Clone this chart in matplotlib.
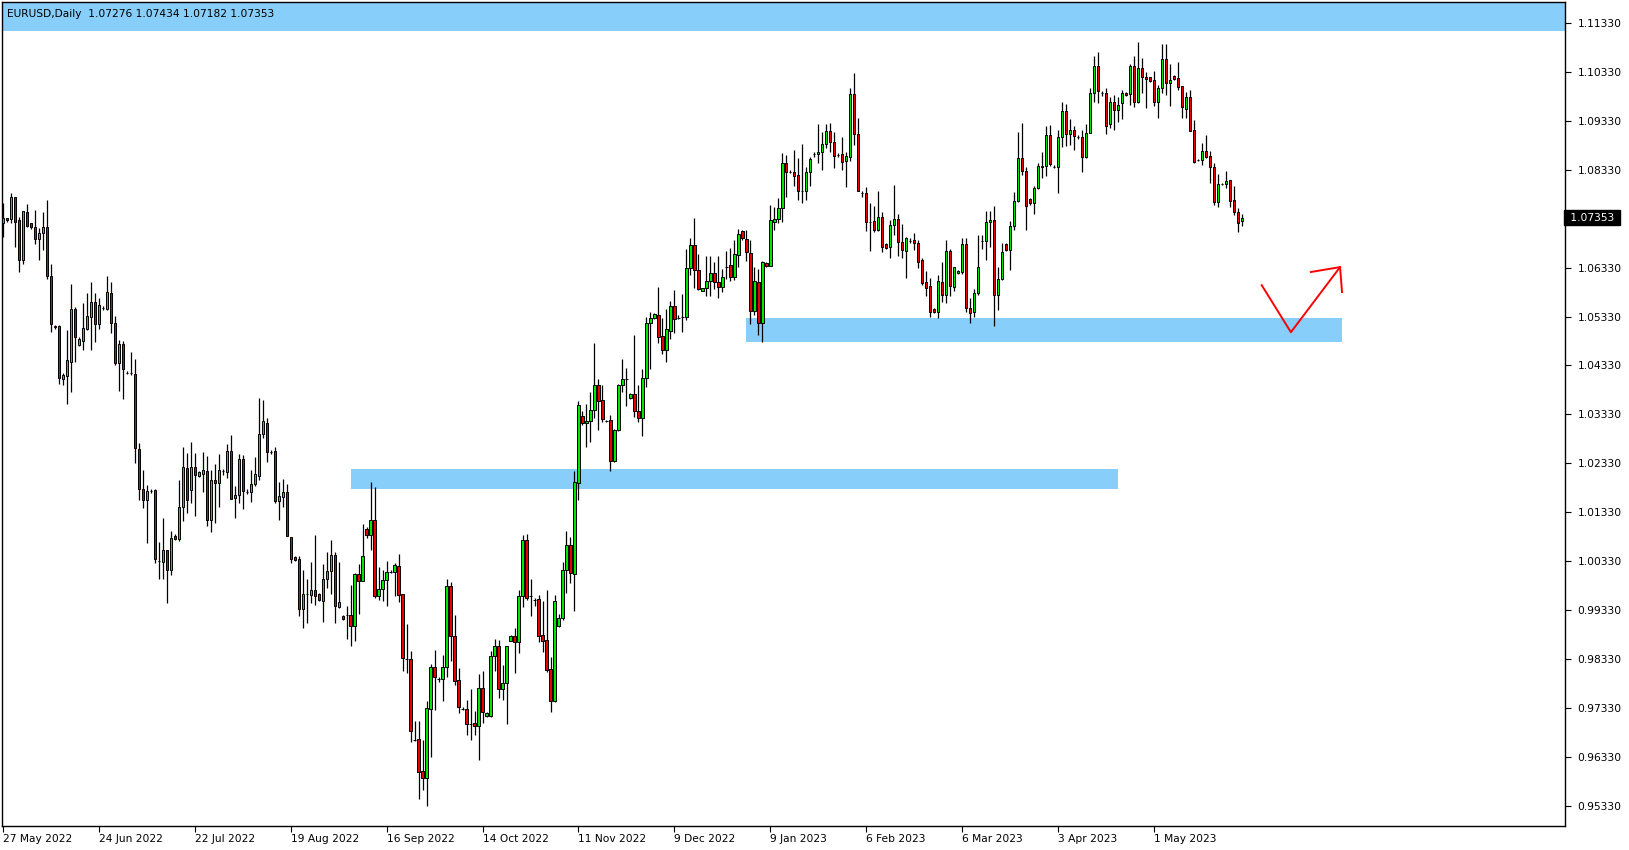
import numpy as np
import matplotlib.pyplot as plt

# EURUSD daily candles (one bar per trading day incl. short Sunday bars)
opens = [
    1.0724, 1.0734, 1.0732, 1.0777, 1.0730, 1.0649, 1.0746, 1.0724, 1.0716, 1.0691,
    1.0703, 1.0716, 1.0616, 1.0513, 1.0513, 1.0405, 1.0412, 1.0441, 1.0548, 1.0474,
    1.0484, 1.0508, 1.0533, 1.0562, 1.0518, 1.0551, 1.0548, 1.0582, 1.0519, 1.0439,
    1.0476, 1.0418, 1.0418, 1.0415, 1.0262, 1.0180, 1.0158, 1.0177, 1.0178, 1.0034,
    1.0032, 1.0056, 1.0016, 1.0085, 1.0078, 1.0143, 1.0223, 1.0178, 1.0226, 1.0207,
    1.0211, 1.0217, 1.0117, 1.0199, 1.0192, 1.0218, 1.0215, 1.0258, 1.0162, 1.0168,
    1.0242, 1.0175, 1.0175, 1.0190, 1.0208, 1.0294, 1.0316, 1.0257, 1.0258, 1.0157,
    1.0164, 1.0175, 1.0083, 1.0041, 1.0038, 0.9936, 0.9966, 0.9965, 0.9974, 0.9966,
    0.9952, 0.9996, 1.0014, 1.0046, 0.9940, 0.9921, 0.9924, 0.9924, 0.9901, 1.0007,
    0.9993, 1.0099, 1.0086, 1.0117, 0.9962, 0.9977, 0.9994, 1.0012, 1.0012, 1.0023,
    0.9966, 0.9833, 0.9833, 0.9668, 0.9669, 0.9604, 0.9591, 0.9732, 0.9816, 0.9792,
    0.9792, 0.9816, 0.9982, 0.9880, 0.9790, 0.9732, 0.9732, 0.9700, 0.9702, 0.9697,
    0.9773, 0.9716, 0.9717, 0.9839, 0.9860, 0.9771, 0.9784, 0.9871, 0.9880, 0.9867,
    0.9962, 1.0076, 0.9962, 0.9954, 0.9955, 0.9882, 0.9872, 0.9812, 0.9748, 0.9901,
    0.9918, 1.0015, 1.0067, 1.0007, 1.0193, 1.0330, 1.0315, 1.0320, 1.0343, 1.0393,
    1.0362, 1.0320, 1.0321, 1.0238, 1.0302, 1.0394, 1.0405, 1.0366, 1.0375, 1.0339,
    1.0325, 1.0407, 1.0519, 1.0530, 1.0536, 1.0494, 1.0464, 1.0504, 1.0554, 1.0531,
    1.0533, 1.0533, 1.0632, 1.0679, 1.0628, 1.0586, 1.0591, 1.0606, 1.0622, 1.0603,
    1.0593, 1.0635, 1.0639, 1.0613, 1.0658, 1.0707, 1.0691, 1.0662, 1.0545, 1.0603,
    1.0519, 1.0642, 1.0637, 1.0727, 1.0732, 1.0754, 1.0846, 1.0829, 1.0828, 1.0822,
    1.0790, 1.0790, 1.0828, 1.0865, 1.0865, 1.0869, 1.0885, 1.0912, 1.0889, 1.0863,
    1.0865, 1.0850, 1.0860, 1.0987, 1.0907, 1.0785, 1.0785, 1.0727, 1.0728, 1.0709,
    1.0737, 1.0681, 1.0676, 1.0721, 1.0732, 1.0686, 1.0667, 1.0688, 1.0689, 1.0683,
    1.0649, 1.0603, 1.0596, 1.0548, 1.0543, 1.0603, 1.0576, 1.0667, 1.0594, 1.0622,
    1.0625, 1.0681, 1.0550, 1.0542, 1.0581, 1.0688, 1.0688, 1.0726, 1.0730, 1.0576,
    1.0609, 1.0681, 1.0668, 1.0719, 1.0769, 1.0857, 1.0831, 1.0773, 1.0765, 1.0795,
    1.0838, 1.0841, 1.0903, 1.0839, 1.0839, 1.0899, 1.0953, 1.0905, 1.0915, 1.0899,
    1.0899, 1.0858, 1.0909, 1.0989, 1.1045, 1.0989, 1.0989, 1.0926, 1.0971, 1.0954,
    1.0969, 1.0989, 1.0987, 1.1045, 1.0972, 1.1040, 1.1022, 1.1022, 1.1016, 1.0972,
    1.0999, 1.1059, 1.1011, 1.1024, 1.1021, 1.1004, 1.0958, 1.0982, 1.0915, 1.0853,
    1.0852, 1.0872, 1.0861, 1.0838, 1.0768, 1.0804, 1.0804, 1.0812, 1.0771, 1.0747,
    1.07276,
]
highs = [
    1.0765, 1.0735, 1.0785, 1.0777, 1.0737, 1.0749, 1.0763, 1.0724, 1.0751, 1.0713,
    1.0746, 1.0771, 1.0641, 1.0516, 1.0516, 1.0417, 1.0506, 1.0599, 1.0553, 1.0492,
    1.0560, 1.0582, 1.0603, 1.0582, 1.0570, 1.0555, 1.0615, 1.0603, 1.0534, 1.0486,
    1.0482, 1.0422, 1.0461, 1.0446, 1.0275, 1.0219, 1.0189, 1.0181, 1.0181, 1.0073,
    1.0121, 1.0056, 1.0095, 1.0088, 1.0200, 1.0267, 1.0255, 1.0277, 1.0255, 1.0218,
    1.0257, 1.0248, 1.0219, 1.0232, 1.0252, 1.0222, 1.0273, 1.0291, 1.0187, 1.0252,
    1.0250, 1.0180, 1.0220, 1.0247, 1.0366, 1.0363, 1.0325, 1.0260, 1.0266, 1.0194,
    1.0201, 1.0190, 1.0083, 1.0043, 1.0044, 1.0015, 0.9997, 1.0032, 1.0087, 0.9968,
    1.0027, 1.0051, 1.0076, 1.0051, 1.0031, 0.9923, 0.9941, 0.9984, 1.0009, 1.0027,
    1.0110, 1.0103, 1.0195, 1.0184, 1.0022, 1.0015, 1.0033, 1.0015, 1.0029, 1.0048,
    0.9966, 0.9905, 0.9849, 0.9706, 0.9706, 0.9668, 0.9747, 0.9822, 0.9852, 0.9797,
    0.9841, 0.9997, 0.9991, 0.9923, 0.9814, 0.9736, 0.9749, 0.9772, 0.9726, 0.9803,
    0.9809, 0.9724, 0.9850, 0.9874, 0.9872, 0.9821, 0.9860, 0.9882, 0.9897, 0.9974,
    1.0087, 1.0088, 0.9996, 0.9957, 0.9964, 0.9952, 0.9974, 0.9838, 0.9964, 0.9926,
    1.0031, 1.0095, 1.0083, 1.0218, 1.0360, 1.0340, 1.0355, 1.0378, 1.0478, 1.0405,
    1.0393, 1.0321, 1.0332, 1.0304, 1.0396, 1.0446, 1.0428, 1.0376, 1.0496, 1.0393,
    1.0426, 1.0532, 1.0542, 1.0540, 1.0593, 1.0530, 1.0549, 1.0564, 1.0588, 1.0536,
    1.0579, 1.0671, 1.0693, 1.0734, 1.0661, 1.0592, 1.0657, 1.0657, 1.0644, 1.0657,
    1.0630, 1.0667, 1.0674, 1.0690, 1.0712, 1.0709, 1.0710, 1.0690, 1.0634, 1.0630,
    1.0647, 1.0644, 1.0760, 1.0756, 1.0775, 1.0867, 1.0863, 1.0833, 1.0873, 1.0856,
    1.0885, 1.0839, 1.0860, 1.0869, 1.0926, 1.0910, 1.0926, 1.0928, 1.0910, 1.0868,
    1.0900, 1.0869, 1.0999, 1.1030, 1.0938, 1.0790, 1.0797, 1.0764, 1.0758, 1.0790,
    1.0747, 1.0683, 1.0730, 1.0802, 1.0742, 1.0722, 1.0696, 1.0693, 1.0703, 1.0689,
    1.0653, 1.0626, 1.0611, 1.0550, 1.0618, 1.0644, 1.0689, 1.0671, 1.0635, 1.0628,
    1.0693, 1.0693, 1.0571, 1.0589, 1.0700, 1.0700, 1.0748, 1.0749, 1.0759, 1.0634,
    1.0684, 1.0684, 1.0729, 1.0787, 1.0910, 1.0928, 1.0838, 1.0776, 1.0799, 1.0846,
    1.0869, 1.0923, 1.0925, 1.0843, 1.0914, 1.0972, 1.0967, 1.0937, 1.0922, 1.0904,
    1.0915, 1.0926, 1.0999, 1.1065, 1.1073, 1.0994, 1.0999, 1.0981, 1.0986, 1.0982,
    1.0996, 1.0991, 1.1049, 1.1065, 1.1093, 1.1061, 1.1033, 1.1023, 1.1035, 1.1006,
    1.1089, 1.1089, 1.1050, 1.1026, 1.1054, 1.1004, 1.0992, 1.0996, 1.0934, 1.0855,
    1.0888, 1.0904, 1.0871, 1.0846, 1.0825, 1.0805, 1.0830, 1.0812, 1.0800, 1.0754,
    1.07434,
]
lows = [
    1.0695, 1.0727, 1.0724, 1.0676, 1.0625, 1.0641, 1.0715, 1.0712, 1.0681, 1.0649,
    1.0669, 1.0609, 1.0502, 1.0508, 1.0395, 1.0393, 1.0355, 1.0378, 1.0441, 1.0472,
    1.0465, 1.0506, 1.0465, 1.0481, 1.0508, 1.0547, 1.0547, 1.0500, 1.0433, 1.0380,
    1.0364, 1.0416, 1.0413, 1.0233, 1.0158, 1.0141, 1.0070, 1.0173, 1.0030, 0.9996,
    0.9996, 0.9948, 1.0005, 1.0076, 1.0075, 1.0116, 1.0131, 1.0151, 1.0125, 1.0205,
    1.0175, 1.0104, 1.0093, 1.0111, 1.0143, 1.0209, 1.0203, 1.0160, 1.0121, 1.0151,
    1.0139, 1.0171, 1.0155, 1.0186, 1.0198, 1.0284, 1.0235, 1.0252, 1.0151, 1.0117,
    1.0143, 1.0085, 1.0029, 1.0034, 0.9922, 0.9897, 0.9906, 0.9947, 0.9944, 0.9952,
    0.9909, 0.9979, 0.9966, 0.9907, 0.9938, 0.9913, 0.9875, 0.9860, 0.9871, 0.9925,
    0.9993, 1.0081, 1.0056, 0.9958, 0.9954, 0.9952, 0.9942, 1.0009, 0.9962, 0.9950,
    0.9809, 0.9805, 0.9664, 0.9666, 0.9548, 0.9565, 0.9532, 0.9632, 0.9729, 0.9787,
    0.9747, 0.9797, 0.9829, 0.9781, 0.9722, 0.9729, 0.9677, 0.9668, 0.9677, 0.9627,
    0.9702, 0.9714, 0.9715, 0.9809, 0.9754, 0.9749, 0.9700, 0.9869, 0.9804, 0.9845,
    0.9940, 0.9953, 0.9921, 0.9942, 0.9868, 0.9848, 0.9807, 0.9725, 0.9745, 0.9899,
    0.9913, 0.9969, 0.9989, 0.9931, 1.0158, 1.0311, 1.0267, 1.0277, 1.0326, 1.0301,
    1.0317, 1.0318, 1.0217, 1.0236, 1.0300, 1.0378, 1.0351, 1.0364, 1.0327, 1.0317,
    1.0288, 1.0390, 1.0425, 1.0528, 1.0479, 1.0457, 1.0441, 1.0487, 1.0499, 1.0528,
    1.0502, 1.0525, 1.0618, 1.0591, 1.0588, 1.0585, 1.0574, 1.0575, 1.0589, 1.0571,
    1.0584, 1.0609, 1.0605, 1.0608, 1.0635, 1.0690, 1.0647, 1.0517, 1.0536, 1.0496,
    1.0480, 1.0635, 1.0637, 1.0709, 1.0724, 1.0727, 1.0778, 1.0826, 1.0799, 1.0771,
    1.0765, 1.0771, 1.0799, 1.0860, 1.0846, 1.0833, 1.0877, 1.0870, 1.0836, 1.0858,
    1.0832, 1.0798, 1.0850, 1.0884, 1.0790, 1.0778, 1.0707, 1.0666, 1.0705, 1.0707,
    1.0664, 1.0672, 1.0653, 1.0700, 1.0657, 1.0652, 1.0611, 1.0684, 1.0669, 1.0632,
    1.0598, 1.0574, 1.0533, 1.0540, 1.0531, 1.0562, 1.0560, 1.0574, 1.0586, 1.0620,
    1.0620, 1.0542, 1.0520, 1.0533, 1.0577, 1.0671, 1.0648, 1.0676, 1.0513, 1.0547,
    1.0608, 1.0666, 1.0628, 1.0710, 1.0768, 1.0823, 1.0710, 1.0761, 1.0742, 1.0794,
    1.0816, 1.0821, 1.0841, 1.0837, 1.0786, 1.0880, 1.0881, 1.0883, 1.0873, 1.0895,
    1.0829, 1.0856, 1.0909, 1.0972, 1.0970, 1.0984, 1.0907, 1.0918, 1.0915, 1.0931,
    1.0936, 1.0983, 1.0965, 1.0962, 1.0969, 1.0989, 1.0960, 1.1013, 1.0963, 1.0938,
    1.0989, 1.0985, 1.0964, 1.1017, 1.0996, 1.0938, 1.0939, 1.0913, 1.0846, 1.0851,
    1.0842, 1.0856, 1.0806, 1.0761, 1.0757, 1.0802, 1.0796, 1.0757, 1.0740, 1.0705,
    1.07182,
]
closes = [
    1.0734, 1.0730, 1.0777, 1.0727, 1.0649, 1.0748, 1.0717, 1.0715, 1.0691, 1.0703,
    1.0716, 1.0615, 1.0517, 1.0512, 1.0407, 1.0414, 1.0444, 1.0548, 1.0492, 1.0487,
    1.0509, 1.0534, 1.0562, 1.0518, 1.0556, 1.0551, 1.0583, 1.0519, 1.0439, 1.0476,
    1.0425, 1.0418, 1.0417, 1.0264, 1.0180, 1.0158, 1.0177, 1.0177, 1.0037, 1.0034,
    1.0056, 1.0016, 1.0080, 1.0078, 1.0143, 1.0225, 1.0158, 1.0226, 1.0209, 1.0215,
    1.0219, 1.0117, 1.0199, 1.0192, 1.0220, 1.0218, 1.0258, 1.0160, 1.0168, 1.0242,
    1.0176, 1.0175, 1.0190, 1.0211, 1.0294, 1.0320, 1.0257, 1.0257, 1.0157, 1.0166,
    1.0175, 1.0085, 1.0037, 1.0036, 0.9936, 0.9966, 0.9966, 0.9974, 0.9961, 0.9954,
    0.9996, 1.0014, 1.0046, 0.9942, 0.9950, 0.9915, 0.9924, 0.9901, 1.0007, 0.9993,
    1.0044, 1.0086, 1.0117, 0.9962, 0.9977, 0.9994, 1.0010, 1.0012, 1.0025, 0.9965,
    0.9836, 0.9833, 0.9687, 0.9668, 0.9603, 0.9591, 0.9734, 0.9816, 0.9797, 0.9792,
    0.9816, 0.9982, 0.9881, 0.9789, 0.9736, 0.9732, 0.9700, 0.9700, 0.9697, 0.9773,
    0.9724, 0.9722, 0.9839, 0.9860, 0.9771, 0.9784, 0.9860, 0.9880, 0.9867, 0.9962,
    1.0076, 0.9957, 0.9962, 0.9954, 0.9881, 0.9870, 0.9811, 0.9748, 0.9952, 0.9918,
    1.0015, 1.0067, 1.0009, 1.0194, 1.0353, 1.0315, 1.0319, 1.0343, 1.0393, 1.0361,
    1.0323, 1.0320, 1.0238, 1.0302, 1.0394, 1.0406, 1.0405, 1.0374, 1.0339, 1.0325,
    1.0407, 1.0519, 1.0530, 1.0538, 1.0492, 1.0464, 1.0507, 1.0554, 1.0528, 1.0531,
    1.0533, 1.0632, 1.0679, 1.0628, 1.0590, 1.0591, 1.0606, 1.0622, 1.0603, 1.0594,
    1.0613, 1.0635, 1.0613, 1.0661, 1.0702, 1.0693, 1.0664, 1.0545, 1.0606, 1.0519,
    1.0645, 1.0637, 1.0730, 1.0732, 1.0754, 1.0846, 1.0829, 1.0829, 1.0821, 1.0790,
    1.0790, 1.0828, 1.0855, 1.0865, 1.0869, 1.0885, 1.0912, 1.0889, 1.0862, 1.0863,
    1.0848, 1.0861, 1.0987, 1.0905, 1.0790, 1.0785, 1.0726, 1.0727, 1.0709, 1.0737,
    1.0676, 1.0674, 1.0721, 1.0732, 1.0686, 1.0668, 1.0693, 1.0688, 1.0683, 1.0645,
    1.0602, 1.0592, 1.0543, 1.0542, 1.0606, 1.0576, 1.0667, 1.0596, 1.0634, 1.0626,
    1.0681, 1.0550, 1.0540, 1.0581, 1.0635, 1.0688, 1.0726, 1.0730, 1.0576, 1.0609,
    1.0665, 1.0668, 1.0719, 1.0769, 1.0857, 1.0831, 1.0758, 1.0765, 1.0795, 1.0841,
    1.0841, 1.0903, 1.0844, 1.0839, 1.0899, 1.0953, 1.0905, 1.0915, 1.0901, 1.0899,
    1.0858, 1.0909, 1.0989, 1.1045, 1.0994, 1.0989, 1.0923, 1.0971, 1.0954, 1.0965,
    1.0989, 1.0985, 1.1045, 1.0972, 1.1040, 1.1022, 1.1018, 1.1015, 1.0972, 1.0999,
    1.1059, 1.1011, 1.1016, 1.1019, 1.1002, 1.0962, 1.0982, 1.0913, 1.0849, 1.0853,
    1.0872, 1.0859, 1.0838, 1.0768, 1.0803, 1.0804, 1.0810, 1.0770, 1.0747, 1.0725,
    1.07353,
]

date_labels = ['27 May 2022', '24 Jun 2022', '22 Jul 2022', '19 Aug 2022', '16 Sep 2022',
               '14 Oct 2022', '11 Nov 2022', '9 Dec 2022', '9 Jan 2023', '6 Feb 2023',
               '6 Mar 2023', '3 Apr 2023', '1 May 2023']
bars_per_label = 24

# drawn zones: price low/high, first/last bar
zone_lo = [1.1117, 1.0481, 1.0181]
zone_hi = [1.1200, 1.0531, 1.0222]
zone_from = [-2, 186, 87]
zone_to = [400, 335, 279]

# red "V" arrow (bar index, price)
arrow_x = [315.0, 322.3, 334.6]
arrow_y = [1.0597, 1.0501, 1.0634]
head_x = [327.3, 334.6, 335.1]
head_y = [1.0624, 1.0634, 1.0583]

W, H = 1629, 850
fig = plt.figure(figsize=(W / 100, H / 100), dpi=100)
ax = fig.add_axes([2 / W, 24 / H, 1563 / W, 824 / H])

o = np.array(opens)
h = np.array(highs)
l = np.array(lows)
c = np.array(closes)
x = np.arange(len(o))

for lo, hi, a, b in zip(zone_lo, zone_hi, zone_from, zone_to):
    ax.fill_between([a, b], lo, hi, color='#87cefa', lw=0, zorder=1)

colors = np.where(c >= o, '#00e600', '#e60000')
ax.vlines(x, l, h, color='black', lw=0.9, zorder=2)
ax.bar(x, np.abs(c - o), bottom=np.minimum(o, c), width=0.62, color=colors,
       edgecolor='black', linewidth=0.7, zorder=3)

ax.plot(arrow_x, arrow_y, color='red', lw=1.4, zorder=4)
ax.plot(head_x, head_y, color='red', lw=1.4, zorder=4)

ax.set_xlim(-0.28, 390.9)
ax.set_ylim(0.94920, 1.11757)

# the tick label nearest the last price is hidden behind the price box, as in MT4
yt = np.arange(0.95330, 1.11331, 0.01)
ylabels = ['' if abs(v - closes[-1]) < 0.0015 else f'{v:.5f}' for v in yt]
ax.yaxis.tick_right()
ax.set_yticks(yt)
ax.set_yticklabels(ylabels)
ax.set_xticks([i * bars_per_label for i in range(len(date_labels))])
ax.set_xticklabels(date_labels)
for lbl in ax.get_xticklabels():
    lbl.set_ha('left')
ax.tick_params(axis='y', direction='out', length=4, width=0.8, pad=5, labelsize=7.7, colors='black')
ax.tick_params(axis='x', direction='out', length=4, width=0.8, pad=2, labelsize=7.7, colors='black')
for s in ax.spines.values():
    s.set_linewidth(1.0)
    s.set_color('black')

# last price marker
ax.text(1.0012, closes[-1], f' {closes[-1]:.5f} ', transform=ax.get_yaxis_transform(),
        ha='left', va='center', fontsize=7.7, color='white',
        bbox=dict(boxstyle='square,pad=0.25', fc='black', ec='black'), clip_on=False)

ax.text(0.003, 0.992, 'EURUSD,Daily  1.07276 1.07434 1.07182 1.07353',
        transform=ax.transAxes, ha='left', va='top', fontsize=7.7, color='black')

fig.savefig('out.png', dpi=100)
